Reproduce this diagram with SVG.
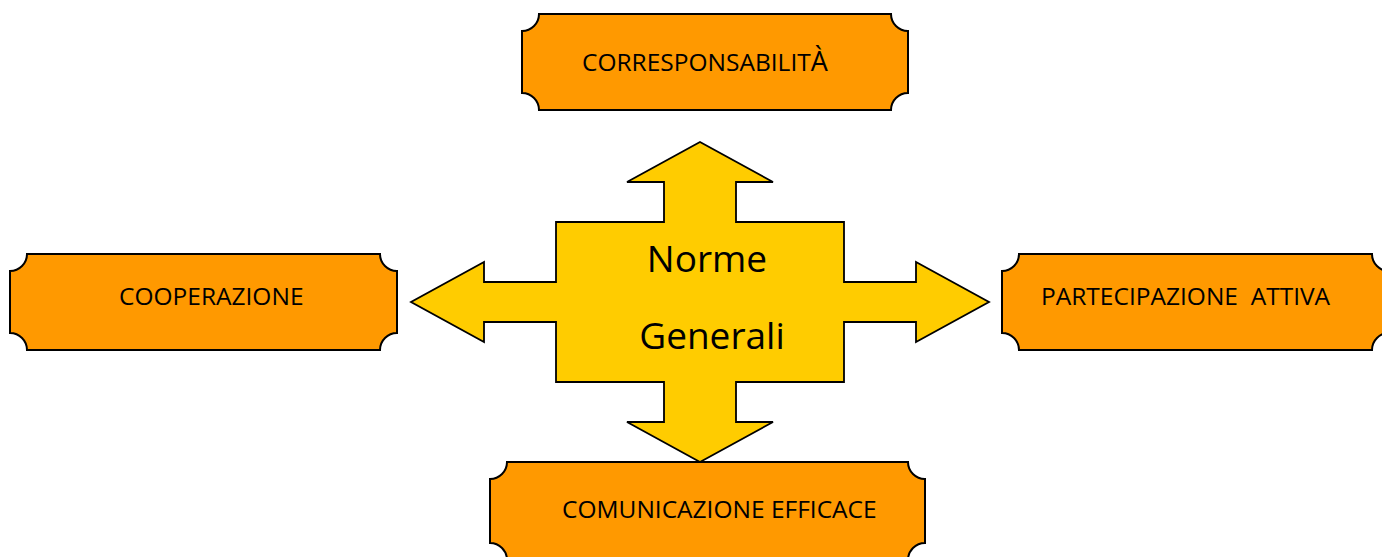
<svg xmlns="http://www.w3.org/2000/svg" width="1382" height="557" viewBox="0 0 1382 557">
<style>
.box{fill:#FF9900;stroke:#000;stroke-width:2;stroke-linejoin:miter}
.cross{fill:#FFCC00;stroke:#000;stroke-width:1.8;stroke-linejoin:miter}
.lbl{font-family:"Open Sans","Noto Sans","DejaVu Sans",sans-serif;font-size:24.5px;fill:#000}
.big{font-family:"Open Sans","Noto Sans","DejaVu Sans",sans-serif;font-size:37px;fill:#000;text-anchor:middle}
</style>
<rect width="1382" height="557" fill="#fff"/>
<g id="node-corresponsabilita">
<path class="box" d="M539,14 H891 A17,17 0 0 0 908,31 V93 A17,17 0 0 0 891,110 H539 A17,17 0 0 0 522,93 V31 A17,17 0 0 0 539,14 Z"/>
<text class="lbl" x="582" y="71">CORRESPONSABILIT<tspan font-size="27">À</tspan></text>
</g>
<g id="node-cooperazione">
<path class="box" d="M27,254 H380 A17,17 0 0 0 397,271 V333 A17,17 0 0 0 380,350 H27 A17,17 0 0 0 10,333 V271 A17,17 0 0 0 27,254 Z"/>
<text class="lbl" x="119" y="305">COOPERAZIONE</text>
</g>
<g id="node-partecipazione">
<path class="box" d="M1019,254 H1372 A17,17 0 0 0 1389,271 V333 A17,17 0 0 0 1372,350 H1019 A17,17 0 0 0 1002,333 V271 A17,17 0 0 0 1019,254 Z"/>
<text class="lbl" x="1041" y="305" xml:space="preserve">PARTECIPAZIONE  ATTIVA</text>
</g>
<g id="node-comunicazione">
<path class="box" d="M507,462 H908 A17,17 0 0 0 925,479 V543 A17,17 0 0 0 908,560 H507 A17,17 0 0 0 490,543 V479 A17,17 0 0 0 507,462 Z"/>
<text class="lbl" x="562" y="518">COMUNICAZIONE EFFICACE</text>
</g>
<g id="node-norme-generali">
<path class="cross" d="M700,142 L773,182 H736 V222 H844 V282 H916 V262 L989,302 L916,342 V322 H844 V382 H736 V422 H773 L700,462 L627,422 H664 V382 H556 V322 H484 V342 L411,302 L484,262 V282 H556 V222 H664 V182 H627 Z"/>
<text class="big" x="707" y="272">Norme</text>
<text class="big" x="712" y="349">Generali</text>
</g>
<g id="connectors"></g>
</svg>
